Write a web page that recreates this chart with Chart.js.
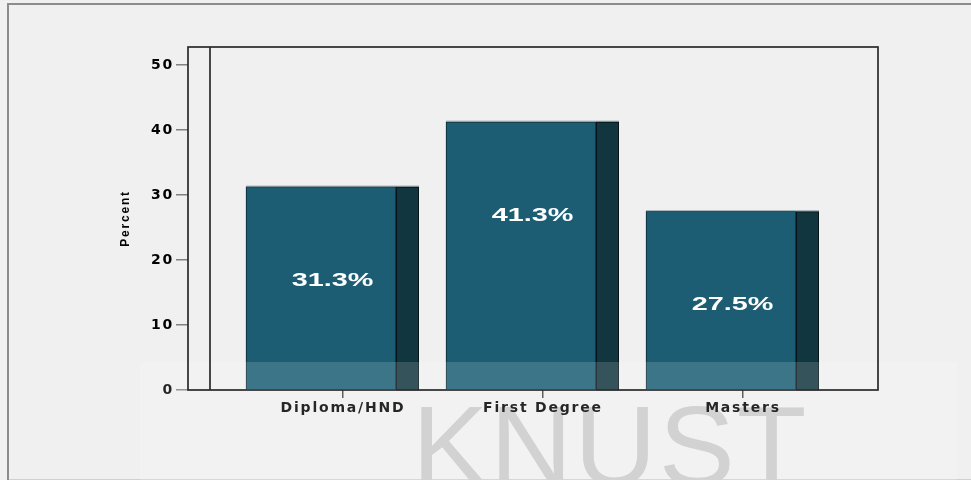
<!DOCTYPE html>
<html>
<head>
<meta charset="utf-8">
<script src="https://cdn.jsdelivr.net/npm/chart.js@4.4.1/dist/chart.umd.min.js"></script>
<style>
  html, body { margin: 0; padding: 0; background: #f0f0f0; }
  canvas { display: block; }
</style>
</head>
<body>
<canvas id="chart" width="971" height="480"></canvas>
<script>
// values
var categories = ['Diploma/HND', 'First Degree', 'Masters'];
var percents = [31.3, 41.3, 27.5];
var yTicks = [0, 10, 20, 30, 40, 50];
var yMax = 52.8;

var frontColor = '#1c5d74';
var sideColor = '#12363f';
var depth = 23; // 3d side of the bars

function setSpacing(chart) {
  chart.ctx.letterSpacing = '1.8px';
}

var decor = {
  id: 'decor',
  beforeUpdate: function(chart) { setSpacing(chart); },
  beforeLayout: function(chart) { setSpacing(chart); },
  beforeDraw: function(chart) {
    var ctx = chart.ctx;
    setSpacing(chart);
    ctx.save();
    ctx.fillStyle = '#f0f0f0';
    ctx.fillRect(0, 0, chart.width, chart.height);
    // outer box
    ctx.strokeStyle = '#d0d0d0';
    ctx.lineWidth = 1;
    ctx.beginPath(); ctx.moveTo(8, 479.5); ctx.lineTo(chart.width, 479.5); ctx.stroke();
    ctx.strokeStyle = '#8c8c8c';
    ctx.lineWidth = 2;
    ctx.beginPath(); ctx.moveTo(8, chart.height); ctx.lineTo(8, 4); ctx.lineTo(chart.width, 4); ctx.stroke();
    // watermark
    ctx.letterSpacing = '2px';
    ctx.font = '114px "Liberation Sans"';
    ctx.fillStyle = '#cacaca';
    ctx.textAlign = 'left';
    ctx.textBaseline = 'alphabetic';
    ctx.fillText('KNUST', 412, 485);
    ctx.restore();
  },
  afterDatasetsDraw: function(chart) {
    var ctx = chart.ctx, a = chart.chartArea;
    var meta = chart.getDatasetMeta(0);
    ctx.save();
    ctx.letterSpacing = '0px';
    meta.data.forEach(function(bar, i) {
      var right = bar.x + bar.width / 2;
      ctx.fillStyle = sideColor;
      ctx.fillRect(right, bar.y, depth, bar.base - bar.y);
      ctx.strokeStyle = '#061419';
      ctx.lineWidth = 1;
      ctx.strokeRect(right + 0.5, bar.y + 0.5, depth - 1, bar.base - bar.y);
      ctx.strokeStyle = '#8a9aa0';
      ctx.beginPath(); ctx.moveTo(bar.x - bar.width / 2, bar.y - 0.5); ctx.lineTo(right + depth, bar.y - 0.5); ctx.stroke();

      ctx.save();
      ctx.fillStyle = '#ffffff';
      ctx.font = 'bold 18px "Liberation Sans"';
      ctx.textAlign = 'center';
      ctx.textBaseline = 'middle';
      ctx.translate(bar.x + depth / 2, bar.y + 94);
      ctx.scale(1.6, 1);
      ctx.fillText(percents[i].toFixed(1) + '%', 0, 0);
      ctx.restore();
    });
    // light band under the watermark
    ctx.fillStyle = 'rgba(255,255,255,0.15)';
    ctx.fillRect(140, 362, 817, 118);
    // plot frame
    ctx.strokeStyle = '#2a2a2a';
    ctx.lineWidth = 1.7;
    ctx.strokeRect(a.left, a.top, a.right - a.left, a.bottom - a.top);
    ctx.beginPath(); ctx.moveTo(a.left + 22, a.top); ctx.lineTo(a.left + 22, a.bottom); ctx.stroke();
    ctx.restore();
  }
};

var tickFont = { family: 'DejaVu Sans', weight: 'bold', size: 14 };

var ctx = document.getElementById('chart').getContext('2d');
var chart = new Chart(ctx, {
  type: 'bar',
  data: {
    datasets: [{
      label: 'Percent',
      data: categories.map(function(c, i) { return { x: i, y: percents[i] }; }),
      backgroundColor: frontColor,
      borderColor: '#0a2630',
      borderWidth: 1,
      barThickness: 150
    }]
  },
  options: {
    responsive: false,
    animation: false,
    layout: { padding: { left: 100, top: 47, right: 93, bottom: 0 } },
    plugins: { legend: { display: false }, tooltip: { enabled: false } },
    scales: {
      x: {
        type: 'linear', display: false, offset: false, bounds: 'data',
        min: -0.665, max: 2.785,
        grid: { offset: false }
      },
      xl: {
        type: 'linear',
        position: 'bottom',
        offset: false,
        bounds: 'data',
        min: -0.775,
        max: 2.675,
        afterBuildTicks: function(s) { s.ticks = categories.map(function(c, i) { return { value: i }; }); },
        afterFit: function(s) { s.height = 90; },
        ticks: {
          callback: function(v) { return categories[v]; },
          font: tickFont,
          color: '#000000',
          padding: 2,
          maxRotation: 0,
          autoSkip: false
        },
        grid: { offset: false, drawOnChartArea: false, tickLength: 8, color: '#444444', lineWidth: 1.5 },
        border: { display: false }
      },
      y: {
        min: 0,
        max: yMax,
        afterBuildTicks: function(s) { s.ticks = yTicks.map(function(v) { return { value: v }; }); },
        afterFit: function(s) { s.width = 88; },
        ticks: { font: tickFont, color: '#000000', padding: 2 },
        grid: { drawOnChartArea: false, tickLength: 12, color: '#808080', lineWidth: 1.5 },
        border: { display: false },
        title: {
          display: true,
          text: 'Percent',
          font: { family: 'Liberation Sans', weight: 'bold', size: 12 },
          color: '#000000',
          padding: 18
        }
      }
    }
  },
  plugins: [decor]
});
</script>
</body>
</html>
